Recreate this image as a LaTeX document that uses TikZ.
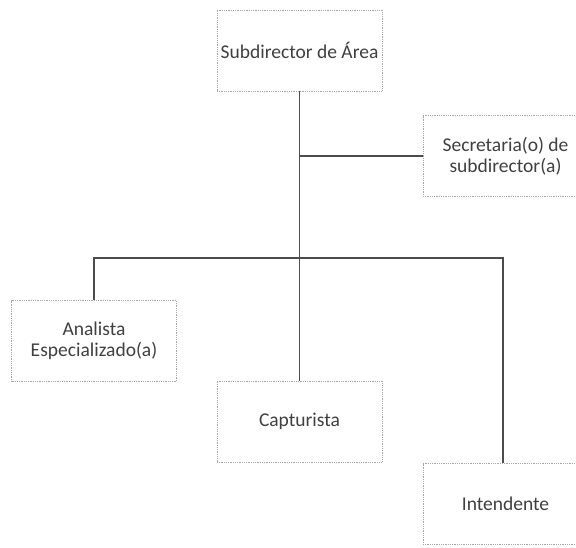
\documentclass[tikz,border=0pt]{standalone}
\usepackage{fontspec}
\setmainfont{Carlito}
\usepackage{tikz}
\usetikzlibrary{positioning}

\begin{document}
\begin{tikzpicture}[x=1pt,y=-1pt,
		puesto/.style={draw=gray!70, densely dotted, line width=0.8pt, fill=white, minimum width=165pt, minimum height=81pt, align=center, text=black!75, font=\fontsize{19.5}{21.5}\selectfont},
		linea/.style={draw=black!70, line width=1.6pt}]
		\useasboundingbox (0,0) rectangle (576,547);
		\clip (0,0) rectangle (576,547);
		\fill[white] (0,0) rectangle (576,547);
		\node[puesto] (sub) at (299.5,50.5) {Subdirector de Área};
		\node[puesto] (sec) at (505.5,156) {Secretaria(o) de\\subdirector(a)};
		\node[puesto] (ana) at (94,341) {Analista\\Especializado(a)};
		\node[puesto] (cap) at (299.5,421.5) {Capturista};
		\node[puesto] (int) at (505.5,504) {Intendente};
		\coordinate (bus) at (299.5,258);
		\draw[linea] (sub) -- (cap);
		\draw[linea] (sub.south |- sec.west) -- (sec.west);
		\draw[linea] (ana.north) |- (bus) -| ([xshift=-2.5pt]int.north);
	\end{tikzpicture}
\end{document}
